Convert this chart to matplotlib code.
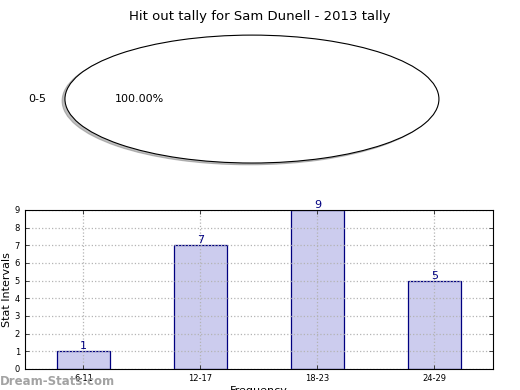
import numpy as np
import matplotlib
matplotlib.use('Agg')
import matplotlib.pyplot as plt

title = 'Hit out tally for Sam Dunell - 2013 tally'
pie_labels = ['0-5']
pie_values = [1]

intervals = ['6-11', '12-17', '18-23', '24-29']
counts = [1, 7, 9, 5]

fig = plt.figure(figsize=(5.2, 3.9), dpi=100)
fig.text(0.5, 0.975, title, ha='center', va='top', fontsize=9.5)

# pie on top (stretched, like the old un-squared axes)
ax1 = fig.add_axes([0.035, 0.541, 0.899, 0.41])
ax1.pie(pie_values, labels=pie_labels, autopct='%.2f%%',
		shadow={'ox': -0.011, 'oy': -0.02, 'shade': 0.5},
		colors=['white'], wedgeprops={'edgecolor': 'black', 'linewidth': 0.8},
		textprops={'fontsize': 8})
ax1.set_aspect('auto')
ax1.set_xlim(-1.25, 1.25); ax1.set_ylim(-1.25, 1.25)

# bar chart below
ax2 = fig.add_axes([0.048, 0.054, 0.9, 0.408])
x = np.arange(len(intervals))
ax2.bar(x, counts, width=0.45, color='#ccccee', edgecolor='navy', linewidth=0.9, zorder=2)
for xi, c in zip(x, counts):
	ax2.text(xi, c, str(c), ha='center', va='bottom', color='navy', fontsize=8, zorder=4)
ax2.set_xlim(-0.5, 3.5); ax2.set_ylim(0, 9)
ax2.set_xticks(x); ax2.set_xticklabels(intervals)
ax2.set_yticks(range(10))
ax2.tick_params(labelsize=6, direction='in', top=True, right=True, length=3, width=0.5)
ax2.grid(True, linestyle=':', color='#b4b4b4', linewidth=0.9, zorder=2.2)
ax2.set_axisbelow(False)
for sp in ax2.spines.values():
	sp.set_zorder(3)
ax2.set_ylabel('Stat Intervals', fontsize=8, labelpad=2)
ax2.set_xlabel('Frequency', fontsize=8, labelpad=2)

fig.text(0.0, 0.005, 'Dream-Stats.com', fontsize=8.5, fontweight='bold', color='#999999',
		 alpha=0.9, ha='left', va='bottom')

fig.savefig('out.png', dpi=100)
